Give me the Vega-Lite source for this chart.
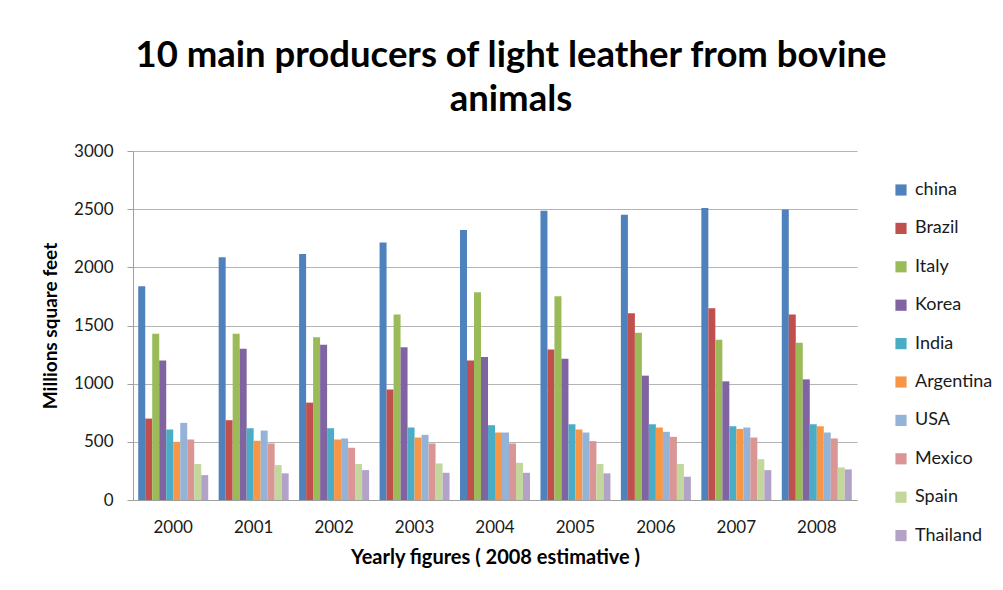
{
  "$schema": "https://vega.github.io/schema/vega-lite/v6.json",
  "autosize": {"type": "none"},
  "width": 724,
  "height": 349,
  "padding": {"left": 133, "top": 151, "right": 146, "bottom": 90},
  "background": "white",
  "title": {
    "text": ["10 main producers of light leather from bovine", "animals"],
    "font": "Lato",
    "fontSize": 36.5,
    "fontWeight": "bold",
    "color": "#000000",
    "anchor": "middle",
    "frame": "group",
    "dx": 16,
    "offset": 24,
    "lineHeight": 44
  },
  "data": {
    "values": [
      {"year": "2000", "country": "china", "value": 1837},
      {"year": "2000", "country": "Brazil", "value": 700},
      {"year": "2000", "country": "Italy", "value": 1429},
      {"year": "2000", "country": "Korea", "value": 1200},
      {"year": "2000", "country": "India", "value": 606},
      {"year": "2000", "country": "Argentina", "value": 500},
      {"year": "2000", "country": "USA", "value": 663},
      {"year": "2000", "country": "Mexico", "value": 520},
      {"year": "2000", "country": "Spain", "value": 309},
      {"year": "2000", "country": "Thailand", "value": 214},
      {"year": "2001", "country": "china", "value": 2086},
      {"year": "2001", "country": "Brazil", "value": 686},
      {"year": "2001", "country": "Italy", "value": 1429},
      {"year": "2001", "country": "Korea", "value": 1300},
      {"year": "2001", "country": "India", "value": 617},
      {"year": "2001", "country": "Argentina", "value": 509},
      {"year": "2001", "country": "USA", "value": 597},
      {"year": "2001", "country": "Mexico", "value": 486},
      {"year": "2001", "country": "Spain", "value": 300},
      {"year": "2001", "country": "Thailand", "value": 229},
      {"year": "2002", "country": "china", "value": 2114},
      {"year": "2002", "country": "Brazil", "value": 837},
      {"year": "2002", "country": "Italy", "value": 1400},
      {"year": "2002", "country": "Korea", "value": 1334},
      {"year": "2002", "country": "India", "value": 617},
      {"year": "2002", "country": "Argentina", "value": 520},
      {"year": "2002", "country": "USA", "value": 529},
      {"year": "2002", "country": "Mexico", "value": 449},
      {"year": "2002", "country": "Spain", "value": 309},
      {"year": "2002", "country": "Thailand", "value": 257},
      {"year": "2003", "country": "china", "value": 2214},
      {"year": "2003", "country": "Brazil", "value": 949},
      {"year": "2003", "country": "Italy", "value": 1594},
      {"year": "2003", "country": "Korea", "value": 1314},
      {"year": "2003", "country": "India", "value": 623},
      {"year": "2003", "country": "Argentina", "value": 537},
      {"year": "2003", "country": "USA", "value": 560},
      {"year": "2003", "country": "Mexico", "value": 486},
      {"year": "2003", "country": "Spain", "value": 314},
      {"year": "2003", "country": "Thailand", "value": 234},
      {"year": "2004", "country": "china", "value": 2320},
      {"year": "2004", "country": "Brazil", "value": 1200},
      {"year": "2004", "country": "Italy", "value": 1786},
      {"year": "2004", "country": "Korea", "value": 1229},
      {"year": "2004", "country": "India", "value": 643},
      {"year": "2004", "country": "Argentina", "value": 580},
      {"year": "2004", "country": "USA", "value": 580},
      {"year": "2004", "country": "Mexico", "value": 486},
      {"year": "2004", "country": "Spain", "value": 320},
      {"year": "2004", "country": "Thailand", "value": 234},
      {"year": "2005", "country": "china", "value": 2486},
      {"year": "2005", "country": "Brazil", "value": 1294},
      {"year": "2005", "country": "Italy", "value": 1751},
      {"year": "2005", "country": "Korea", "value": 1214},
      {"year": "2005", "country": "India", "value": 651},
      {"year": "2005", "country": "Argentina", "value": 606},
      {"year": "2005", "country": "USA", "value": 580},
      {"year": "2005", "country": "Mexico", "value": 506},
      {"year": "2005", "country": "Spain", "value": 309},
      {"year": "2005", "country": "Thailand", "value": 229},
      {"year": "2006", "country": "china", "value": 2451},
      {"year": "2006", "country": "Brazil", "value": 1606},
      {"year": "2006", "country": "Italy", "value": 1437},
      {"year": "2006", "country": "Korea", "value": 1069},
      {"year": "2006", "country": "India", "value": 651},
      {"year": "2006", "country": "Argentina", "value": 623},
      {"year": "2006", "country": "USA", "value": 586},
      {"year": "2006", "country": "Mexico", "value": 543},
      {"year": "2006", "country": "Spain", "value": 309},
      {"year": "2006", "country": "Thailand", "value": 200},
      {"year": "2007", "country": "china", "value": 2509},
      {"year": "2007", "country": "Brazil", "value": 1649},
      {"year": "2007", "country": "Italy", "value": 1377},
      {"year": "2007", "country": "Korea", "value": 1020},
      {"year": "2007", "country": "India", "value": 634},
      {"year": "2007", "country": "Argentina", "value": 611},
      {"year": "2007", "country": "USA", "value": 623},
      {"year": "2007", "country": "Mexico", "value": 537},
      {"year": "2007", "country": "Spain", "value": 351},
      {"year": "2007", "country": "Thailand", "value": 257},
      {"year": "2008", "country": "china", "value": 2497},
      {"year": "2008", "country": "Brazil", "value": 1594},
      {"year": "2008", "country": "Italy", "value": 1351},
      {"year": "2008", "country": "Korea", "value": 1037},
      {"year": "2008", "country": "India", "value": 651},
      {"year": "2008", "country": "Argentina", "value": 634},
      {"year": "2008", "country": "USA", "value": 580},
      {"year": "2008", "country": "Mexico", "value": 529},
      {"year": "2008", "country": "Spain", "value": 280},
      {"year": "2008", "country": "Thailand", "value": 263}
    ]
  },
  "mark": {"type": "bar"},
  "encoding": {
    "x": {
      "field": "year",
      "type": "nominal",
      "scale": {"paddingInner": 0.13, "paddingOuter": 0.065},
      "axis": {
        "title": "Yearly figures ( 2008 estimative )",
        "titleFont": "Lato",
        "titleFontSize": 20,
        "titleFontWeight": "bold",
        "titleColor": "#000000",
        "titlePadding": 12,
        "labelAngle": 0,
        "labelFont": "Lato",
        "labelFontSize": 17,
        "labelColor": "#1a1a1a",
        "labelPadding": 19,
        "domainColor": "#a0a0a0",
        "ticks": false
      }
    },
    "xOffset": {
      "field": "country",
      "type": "nominal",
      "sort": ["china", "Brazil", "Italy", "Korea", "India", "Argentina", "USA", "Mexico", "Spain", "Thailand"],
      "scale": {"paddingInner": 0, "paddingOuter": 0}
    },
    "y": {
      "field": "value",
      "type": "quantitative",
      "scale": {"domain": [0, 3000], "nice": false},
      "axis": {
        "title": "Millions square feet",
        "titleFont": "Lato",
        "titleFontSize": 19,
        "titleFontWeight": "bold",
        "titleColor": "#000000",
        "titlePadding": 13,
        "values": [0, 500, 1000, 1500, 2000, 2500, 3000],
        "format": "d",
        "labelFont": "Lato",
        "labelFontSize": 17,
        "labelColor": "#1a1a1a",
        "labelPadding": 14,
        "domainColor": "#a0a0a0",
        "tickColor": "#a0a0a0",
        "tickSize": 6,
        "gridColor": "#b4b4b4"
      }
    },
    "color": {
      "field": "country",
      "type": "nominal",
      "scale": {
        "domain": ["china", "Brazil", "Italy", "Korea", "India", "Argentina", "USA", "Mexico", "Spain", "Thailand"],
        "range": ["#4F81BD", "#C0504D", "#9BBB59", "#8064A2", "#4BACC6", "#F79646", "#95B3D7", "#D99694", "#C3D69B", "#B3A2C7"]
      },
      "legend": {
        "title": null,
        "orient": "none",
        "legendX": 759,
        "legendY": 30,
        "symbolType": "square",
        "symbolSize": 125,
        "symbolStrokeWidth": 0,
        "labelFont": "Lato",
        "labelFontSize": 18,
        "labelColor": "#1a1a1a",
        "labelOffset": 5,
        "rowPadding": 20.4
      }
    }
  },
  "config": {
    "view": {"stroke": null}
  }
}
